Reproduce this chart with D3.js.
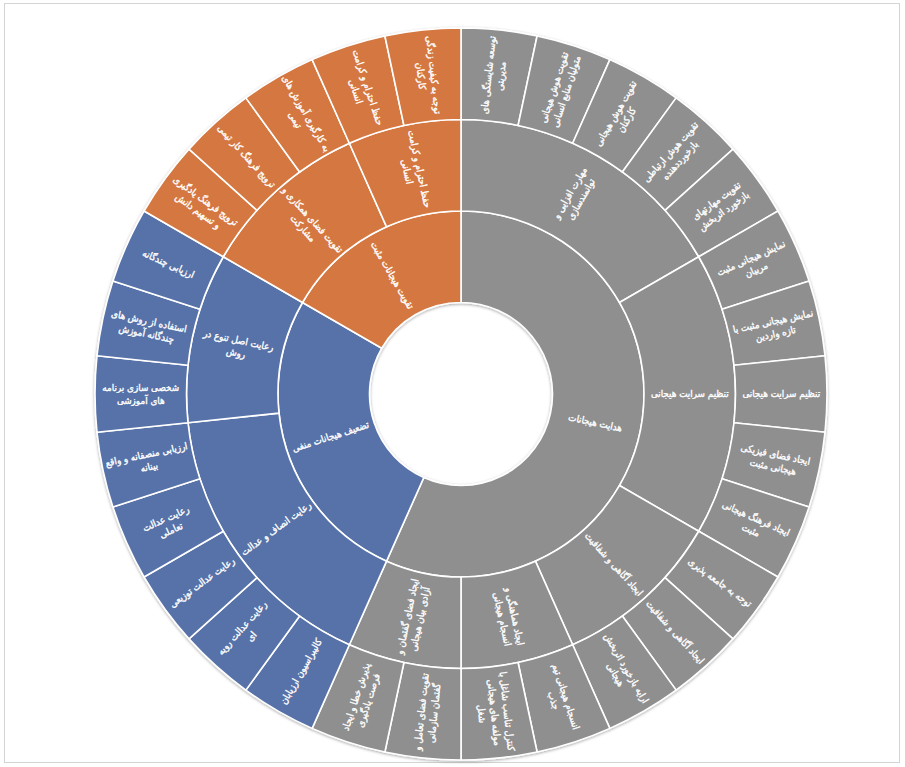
<!DOCTYPE html>
<html>
<head>
<meta charset="utf-8">
<script src="https://cdn.jsdelivr.net/npm/d3@7"></script>
<style>
  html, body { margin: 0; padding: 0; background: #ffffff; }
  svg { display: block; }
  text { font-family: "DejaVu Sans Condensed", "DejaVu Sans", sans-serif; fill: #ffffff; }
</style>
</head>
<body>
<svg id="chart" width="905" height="767"></svg>
<script>
// ---------- data ----------
const level1 = ["هدایت هیجانات", "تضعیف هیجانات منفی", "تقویت هیجانات مثبت"];

const level2 = [
  "مهارت افزایی و\nتوانمندسازی",
  "تنظیم سرایت هیجانی",
  "ایجاد آگاهی و شفافیت",
  "ایجاد هماهنگی و\nانسجام هیجانی",
  "ایجاد فضای گفتمان و\nآزادی بیان هیجانی",
  "رعایت انصاف و عدالت",
  "رعایت اصل تنوع در\nروش",
  "تقویت فضای همکاری و\nمشارکت",
  "حفظ احترام و کرامت\nانسانی"
];
const level2Parent = [0, 0, 0, 0, 0, 1, 1, 2, 2];

const leaves = [
  "توسعه شایستگی های\nمدیریتی",
  "تقویت هوش هیجانی\nمتولیان منابع انسانی",
  "تقویت هوش هیجانی\nکارکنان",
  "تقویت هوش ارتباطی\nبازخورددهنده",
  "تقویت مهارتهای\nبازخورد اثربخش",
  "نمایش هیجانی مثبت\nمربیان",
  "نمایش هیجانی مثبت با\nتازه واردین",
  "تنظیم سرایت هیجانی",
  "ایجاد فضای فیزیکی\nهیجانی مثبت",
  "ایجاد فرهنگ هیجانی\nمثبت",
  "توجه به جامعه پذیری",
  "ایجاد آگاهی و شفافیت",
  "ارایه بازخورد اثربخش\nهیجانی",
  "انسجام هیجانی تیم\nجذب",
  "کنترل تناسب شاغل با\nمولفه های هیجانی\nشغل",
  "تقویت فضای تعامل و\nگفتمان سازمانی",
  "پذیرش خطا و ایجاد\nفرصت یادگیری",
  "کالیبراسیون ارزیابان",
  "رعایت عدالت رویه\nای",
  "رعایت عدالت توزیعی",
  "رعایت عدالت\nتعاملی",
  "ارزیابی منصفانه و واقع\nبینانه",
  "شخصی سازی برنامه\nهای آموزشی",
  "استفاده از روش های\nچندگانه آموزش",
  "ارزیابی چندگانه",
  "ترویج فرهنگ یادگیری\nو تسهیم دانش",
  "ترویج فرهنگ کار تیمی",
  "به کارگیری آموزش های\nتیمی",
  "حفظ احترام و کرامت\nانسانی",
  "توجه به کیفیت زندگی\nکارکنان"
];
const leafParent = [0,0,0,0,0, 1,1,1,1,1, 2,2,2, 3,3, 4,4, 5,5,5,5,5, 6,6,6, 7,7,7, 8,8];
const leafValues = [1,1,1,1,1, 1,1,1,1,1, 1,1,1, 1,1, 1,1, 1,1,1,1,1, 1,1,1, 1,1,1, 1,1];

const branchColors = ["#8f8f8f", "#5772a8", "#d5773f"];

// ---------- build hierarchy ----------
const rootData = {
  name: "root",
  children: level1.map((n, i) => ({
    name: n, top: i,
    children: level2.map((m, j) => ({ name: m, idx: j }))
      .filter(c => level2Parent[c.idx] === i)
      .map(c => ({
        name: c.name, top: i,
        children: leaves.map((l, k) => ({ name: l, top: i, value: leafValues[k], p: leafParent[k] }))
          .filter(l => l.p === c.idx)
      }))
  }))
};

const root = d3.hierarchy(rootData).sum(d => d.children ? 0 : d.value);
d3.partition().size([2 * Math.PI, 4])(root);

const cx = 461, cy = 394;
const ringR = d3.scaleLinear().domain([0, 4]).range([0, 366]);

const svg = d3.select("#chart");

svg.append("rect")
  .attr("x", 4.5).attr("y", 3.5)
  .attr("width", 895).attr("height", 759)
  .attr("fill", "none").attr("stroke", "#d4d4d4").attr("stroke-width", 1);

const defs = svg.append("defs");
const f = defs.append("filter").attr("id", "sh").attr("x", "-10%").attr("y", "-10%").attr("width", "120%").attr("height", "120%");
f.append("feDropShadow").attr("dx", 0).attr("dy", 1).attr("stdDeviation", 1.6).attr("flood-color", "#000").attr("flood-opacity", 0.35);

const g = svg.append("g").attr("transform", `translate(${cx},${cy})`);

const arc = d3.arc()
  .startAngle(d => d.x0)
  .endAngle(d => d.x1)
  .innerRadius(d => ringR(d.y0))
  .outerRadius(d => ringR(d.y1));

const nodes = root.descendants().filter(d => d.depth > 0);

g.append("g").attr("filter", "url(#sh)")
  .selectAll("path")
  .data(nodes)
  .join("path")
  .attr("d", arc)
  .attr("fill", d => branchColors[d.data.top])
  .attr("stroke", "#ffffff")
  .attr("stroke-width", 1.6)
  .attr("stroke-linejoin", "round");

const labels = g.append("g")
  .selectAll("g")
  .data(nodes)
  .join("g")
  .attr("transform", d => {
    const a = (d.x0 + d.x1) / 2 * 180 / Math.PI;
    const r = ringR((d.y0 + d.y1) / 2);
    return `rotate(${a - 90}) translate(${r},0) rotate(${a < 180 ? 0 : 180})`;
  });

const fs = 9.8, lh = 1.3;
labels.append("text")
  .attr("text-anchor", "middle")
  .attr("font-size", fs)
  .attr("stroke", "#ffffff")
  .attr("stroke-width", 0.35)
  .each(function(d) {
    const lines = d.data.name.split("\n");
    const t = d3.select(this);
    lines.forEach((ln, i) => {
      t.append("tspan")
        .attr("x", 0)
        .attr("dy", i === 0 ? (0.35 - (lines.length - 1) * lh / 2) + "em" : lh + "em")
        .text(ln);
    });
  });
</script>
</body>
</html>
